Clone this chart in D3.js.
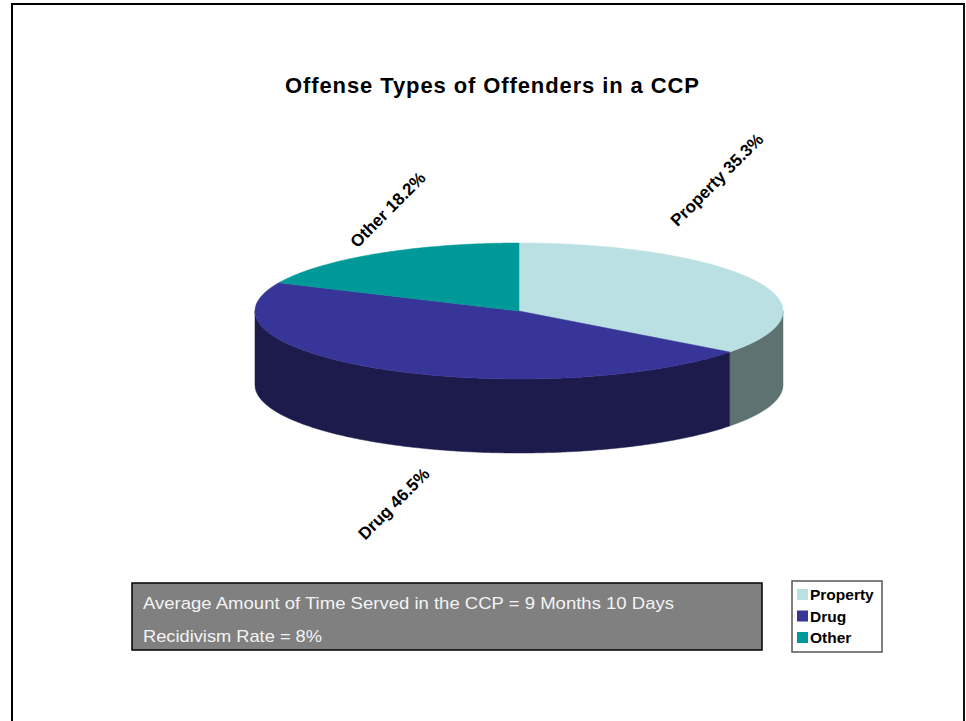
<!DOCTYPE html>
<html>
<head>
<meta charset="utf-8">
<script src="https://cdn.jsdelivr.net/npm/d3@7"></script>
<style>
  html, body { margin: 0; padding: 0; background: #ffffff; }
  svg { display: block; font-family: "Liberation Sans", Arial, sans-serif; }
</style>
</head>
<body>
<svg id="chart" width="966" height="721"></svg>
<script>
// Offense categories and their shares (percent)
const categories = ["Property", "Drug", "Other"];
const shares = [35.3, 46.5, 18.2];
const topColors = ["#BAE0E3", "#373597", "#009999"];
const sideColors = ["#5E7272", "#1C1B4C", "#006666"];

const title = "Offense Types of Offenders in a CCP";
const noteLines = [
  "Average Amount of Time Served in the CCP = 9 Months 10 Days",
  "Recidivism Rate = 8%"
];

const svg = d3.select("#chart");

// outer frame
svg.append("path")
  .attr("d", "M12,730 L12,4 L964,4 L964,730")
  .attr("fill", "none").attr("stroke", "#000").attr("stroke-width", 2);
svg.append("line").attr("x1", 964).attr("x2", 964).attr("y1", 4).attr("y2", 721)
  .attr("stroke", "#222").attr("stroke-width", 1);

// title
svg.append("text")
  .attr("x", 285).attr("y", 93)
  .attr("font-size", 22).attr("font-weight", "bold")
  .attr("textLength", 414).attr("lengthAdjust", "spacing")
  .text(title);

// 3D pie geometry
const cx = 519, cy = 311, rx = 264, ry = 68, depth = 74;
const pie = d3.pie().sort(null).startAngle(0).endAngle(2 * Math.PI);
const arcs = pie(shares);

const pt = (a, dy = 0) => [cx + rx * Math.sin(a), cy - ry * Math.cos(a) + dy];
const sample = (a0, a1, dy = 0) => {
  const n = Math.max(2, Math.ceil(Math.abs(a1 - a0) / 0.01));
  return d3.range(n + 1).map(i => pt(a0 + (a1 - a0) * i / n, dy));
};
const line = d3.line();

const g = svg.append("g");

// side walls: only the front half (pi/2 .. 3pi/2) faces the viewer
arcs.forEach((d, i) => {
  const a0 = Math.max(d.startAngle, Math.PI / 2);
  const a1 = Math.min(d.endAngle, 3 * Math.PI / 2);
  if (a1 <= a0) return;
  const pts = sample(a0, a1).concat(sample(a1, a0, depth));
  g.append("path")
    .attr("d", line(pts) + "Z")
    .attr("fill", sideColors[i]).attr("stroke", sideColors[i]).attr("stroke-width", 0.5);
});

// top faces
arcs.forEach((d, i) => {
  const pts = [[cx, cy]].concat(sample(d.startAngle, d.endAngle));
  g.append("path")
    .attr("d", line(pts) + "Z")
    .attr("fill", topColors[i]).attr("stroke", topColors[i]).attr("stroke-width", 0.5);
});

// rotated slice labels
const labelCenters = [[717, 180], [394, 504], [388, 210]];
arcs.forEach((d, i) => {
  const [x, y] = labelCenters[i];
  svg.append("text")
    .attr("transform", `translate(${x},${y}) rotate(-45)`)
    .attr("text-anchor", "middle").attr("dominant-baseline", "central")
    .attr("font-size", 17).attr("font-weight", "bold")
    .text(`${categories[i]} ${d3.format(".1f")(shares[i])}%`);
});

// note box
svg.append("rect")
  .attr("x", 132).attr("y", 583).attr("width", 630).attr("height", 67)
  .attr("fill", "#808080").attr("stroke", "#000").attr("stroke-width", 1.5);
const noteWidths = [531, 179];
noteLines.forEach((t, i) => {
  svg.append("text")
    .attr("x", 143).attr("y", 609 + i * 33)
    .attr("font-size", 17).attr("fill", "#F4F4F4")
    .attr("textLength", noteWidths[i]).attr("lengthAdjust", "spacingAndGlyphs")
    .text(t);
});

// legend
svg.append("rect")
  .attr("x", 792).attr("y", 581).attr("width", 90).attr("height", 71)
  .attr("fill", "#fff").attr("stroke", "#555").attr("stroke-width", 1.5);
categories.forEach((c, i) => {
  const by = 600 + i * 21.5;
  svg.append("rect")
    .attr("x", 797).attr("y", by - 11).attr("width", 11).attr("height", 11)
    .attr("fill", topColors[i]);
  svg.append("text")
    .attr("x", 810).attr("y", by)
    .attr("font-size", 15.5).attr("font-weight", "bold")
    .text(c);
});
</script>
</body>
</html>
